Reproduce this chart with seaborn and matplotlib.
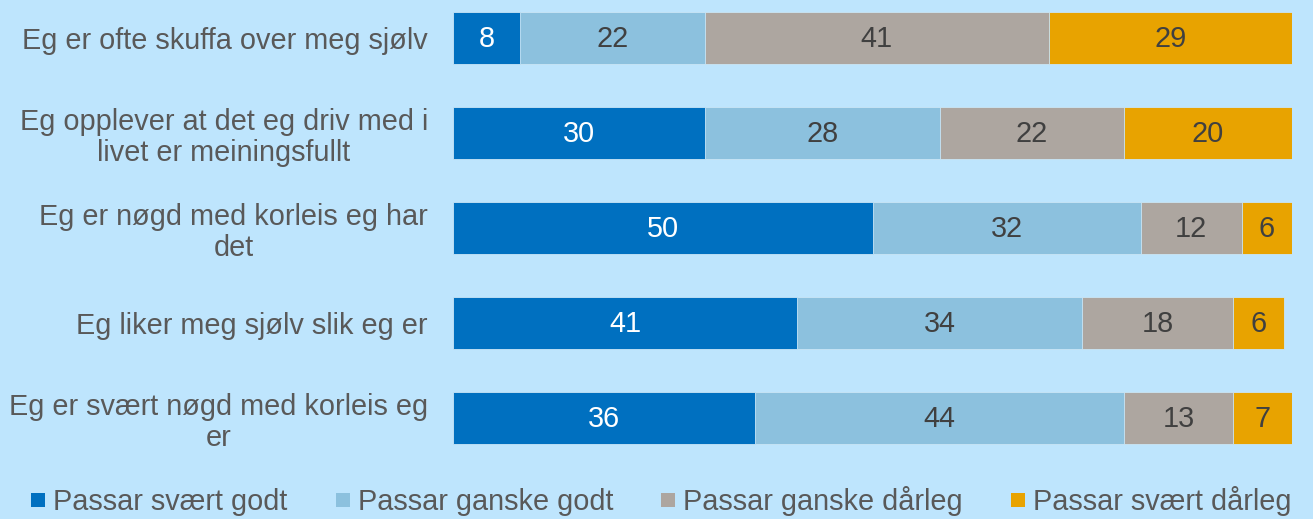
import matplotlib
matplotlib.use("Agg")
import matplotlib.pyplot as plt
from matplotlib.lines import Line2D
import numpy as np
import pandas as pd
import seaborn as sns

# Survey statements (top to bottom) and share of answers per response level (%)
statements = [
    "Eg er ofte skuffa over meg sjølv",
    "Eg opplever at det eg driv med i\nlivet er meiningsfullt",
    "Eg er nøgd med korleis eg har\ndet",
    "Eg liker meg sjølv slik eg er",
    "Eg er svært nøgd med korleis eg\ner",
]
series_names = [
    "Passar svært godt",
    "Passar ganske godt",
    "Passar ganske dårleg",
    "Passar svært dårleg",
]
svaert_godt = [8, 30, 50, 41, 36]
ganske_godt = [22, 28, 32, 34, 44]
ganske_darleg = [41, 22, 12, 18, 13]
svaert_darleg = [29, 20, 6, 6, 7]

colors = ["#0070C0", "#8CC1DE", "#ADA6A0", "#E8A300"]
label_colors = ["white", "#404040", "#404040", "#404040"]
bg = "#BEE5FD"
text_grey = "#595959"

sns.set_theme(style="white")
plt.rcParams["font.family"] = ["Liberation Sans", "DejaVu Sans"]
fs = 20.8

values = np.array([svaert_godt, ganske_godt, ganske_darleg, svaert_darleg], dtype=float)
cum = np.cumsum(values, axis=0)

fig = plt.figure(figsize=(13.13, 5.19), dpi=100, facecolor=bg)
ax = fig.add_axes([453 / 1313, 59 / 519, 839 / 1313, 460 / 519])
ax.set_facecolor(bg)

# Stack by overdrawing cumulative totals, widest first
for i in range(len(series_names) - 1, -1, -1):
    df = pd.DataFrame({"statement": statements, "total": cum[i]})
    sns.barplot(data=df, x="total", y="statement", order=statements, orient="h",
                color=colors[i], saturation=1, width=0.547, ax=ax,
                edgecolor="#C9E6F7", linewidth=0.6)

# Value labels centred in each segment
for i in range(len(series_names)):
    starts = cum[i] - values[i]
    for j, v in enumerate(values[i]):
        ax.text(starts[j] + v / 2, j + 0.01, f"{int(v)}", ha="center", va="center",
                fontsize=fs, color=label_colors[i])

ax.set_xlim(0, 100)
ax.set_ylim(4.44, -0.4)
ax.set_xlabel("")
ax.set_ylabel("")
ax.set_xticks([])
ax.tick_params(axis="y", length=0, pad=18)
for lab in ax.get_yticklabels():
    lab.set_fontsize(fs)
    lab.set_color(text_grey)
    lab.set_multialignment("center")
    lab.set_linespacing(1.12)
for s in ax.spines.values():
    s.set_visible(False)

handles = [Line2D([], [], marker="s", linestyle="none", markersize=9.5,
                  markerfacecolor=c, markeredgewidth=0) for c in colors]
fig.legend(handles, series_names, loc="center left", bbox_to_anchor=(0.024, 0.034),
           ncol=4, frameon=False, fontsize=fs, labelcolor=text_grey,
           handlelength=0.45, handletextpad=0.3, columnspacing=1.68,
           borderpad=0, borderaxespad=0)

fig.savefig("out.png", dpi=100, facecolor=bg)
